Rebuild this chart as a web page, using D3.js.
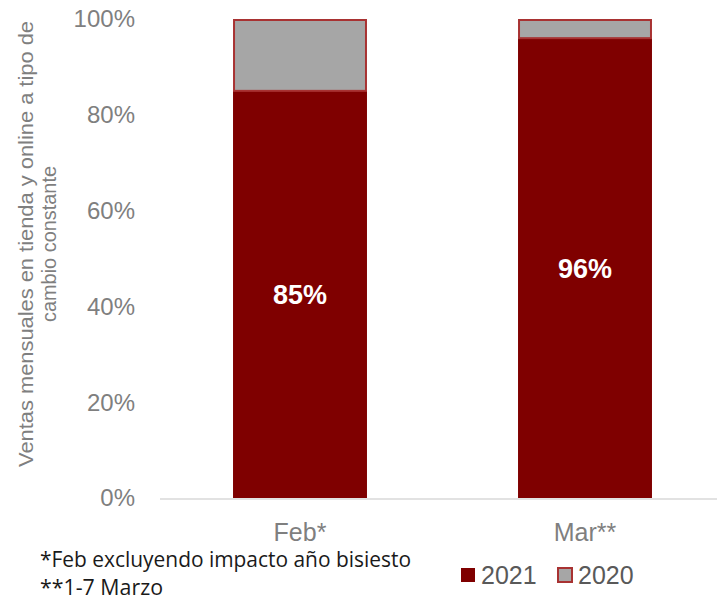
<!DOCTYPE html>
<html>
<head>
<meta charset="utf-8">
<script src="https://cdn.jsdelivr.net/npm/d3@7"></script>
<style>
  html, body { margin: 0; padding: 0; background: #fff; }
  svg { display: block; font-family: "Liberation Sans", Arial, sans-serif; }
</style>
</head>
<body>
<svg id="chart" width="717" height="602"></svg>
<script>
// data
const categories = ['Feb*', 'Mar**'];
const series2021 = [0.85, 0.96];
const series2020 = [0.15, 0.04];
const valueLabels = ['85%', '96%'];
const yTicks = [0, 0.2, 0.4, 0.6, 0.8, 1];
const seriesNames = ['2021', '2020'];
const titleLines = ['Ventas mensuales en tienda y online a tipo de', 'cambio constante'];
const footnotes = ['*Feb excluyendo impacto año bisiesto', '**1-7 Marzo'];

const red = '#7f0000', grey = '#a6a6a6', edge = '#a83232';

const svg = d3.select('#chart');

const x = d3.scaleBand()
  .domain(categories)
  .range([157.5, 727.5])
  .paddingInner(0.53)
  .paddingOuter(0.265);

const y = d3.scaleLinear()
  .domain([0, 1])
  .range([498, 19]);

// baseline
svg.append('line')
  .attr('x1', 160).attr('x2', 717)
  .attr('y1', y(0) + 1).attr('y2', y(0) + 1)
  .attr('stroke', '#d9d9d9')
  .attr('stroke-width', 1.5);

// y tick labels
svg.append('g')
  .selectAll('text')
  .data(yTicks)
  .join('text')
    .attr('x', 135)
    .attr('y', d => y(d))
    .attr('dy', '0.35em')
    .attr('text-anchor', 'end')
    .attr('font-size', 24)
    .attr('fill', '#7f7f7f')
    .text(d3.format('.0%'));

// y title, two lines rotated
svg.append('g')
  .selectAll('text')
  .data(titleLines)
  .join('text')
    .attr('transform', (d, i) => `translate(${33 + i * 23},244) rotate(-90)`)
    .attr('text-anchor', 'middle')
    .attr('font-size', 21)
    .attr('fill', '#7f7f7f')
    .attr('textLength', (d, i) => [446, 156][i])
    .attr('lengthAdjust', 'spacingAndGlyphs')
    .text(d => d);

// stacked bars
const bars = svg.append('g')
  .selectAll('g')
  .data(categories)
  .join('g');

bars.append('rect')
  .attr('x', d => x(d))
  .attr('width', x.bandwidth())
  .attr('y', (d, i) => y(series2021[i]))
  .attr('height', (d, i) => y(0) - y(series2021[i]))
  .attr('fill', red);

bars.append('rect')
  .attr('x', d => x(d) + 1)
  .attr('width', x.bandwidth() - 2)
  .attr('y', (d, i) => y(series2021[i] + series2020[i]) + 1)
  .attr('height', (d, i) => y(series2021[i]) - y(series2021[i] + series2020[i]) - 1)
  .attr('fill', grey)
  .attr('stroke', edge)
  .attr('stroke-width', 2);

bars.append('text')
  .attr('x', d => x(d) + x.bandwidth() / 2)
  .attr('y', (d, i) => (y(0) + y(series2021[i])) / 2)
  .attr('dy', '0.35em')
  .attr('text-anchor', 'middle')
  .attr('font-size', 27)
  .attr('font-weight', 'bold')
  .attr('fill', '#fff')
  .text((d, i) => valueLabels[i]);

// x labels
svg.append('g')
  .selectAll('text')
  .data(categories)
  .join('text')
    .attr('x', d => x(d) + x.bandwidth() / 2)
    .attr('y', 541)
    .attr('text-anchor', 'middle')
    .attr('font-size', 25)
    .attr('fill', '#7f7f7f')
    .text(d => d);

// footnotes
svg.append('g')
  .selectAll('text')
  .data(footnotes)
  .join('text')
    .attr('x', 40)
    .attr('y', (d, i) => 567 + i * 28)
    .attr('font-family', '"Open Sans", sans-serif')
    .attr('font-size', 21)
    .attr('fill', '#1a1a1a')
    .attr('textLength', (d, i) => [371, 123][i])
    .attr('lengthAdjust', 'spacingAndGlyphs')
    .text(d => d);

// legend
const legend = svg.append('g')
  .selectAll('g')
  .data(seriesNames)
  .join('g')
    .attr('transform', (d, i) => `translate(${461 + i * 97},568)`);

legend.append('rect')
  .attr('width', 14).attr('height', 14)
  .attr('fill', (d, i) => i ? grey : red)
  .attr('stroke', (d, i) => i ? edge : 'none')
  .attr('stroke-width', 2);

legend.append('text')
  .attr('x', 20)
  .attr('y', 16)
  .attr('font-size', 25)
  .attr('fill', '#595959')
  .text(d => d);
</script>
</body>
</html>
